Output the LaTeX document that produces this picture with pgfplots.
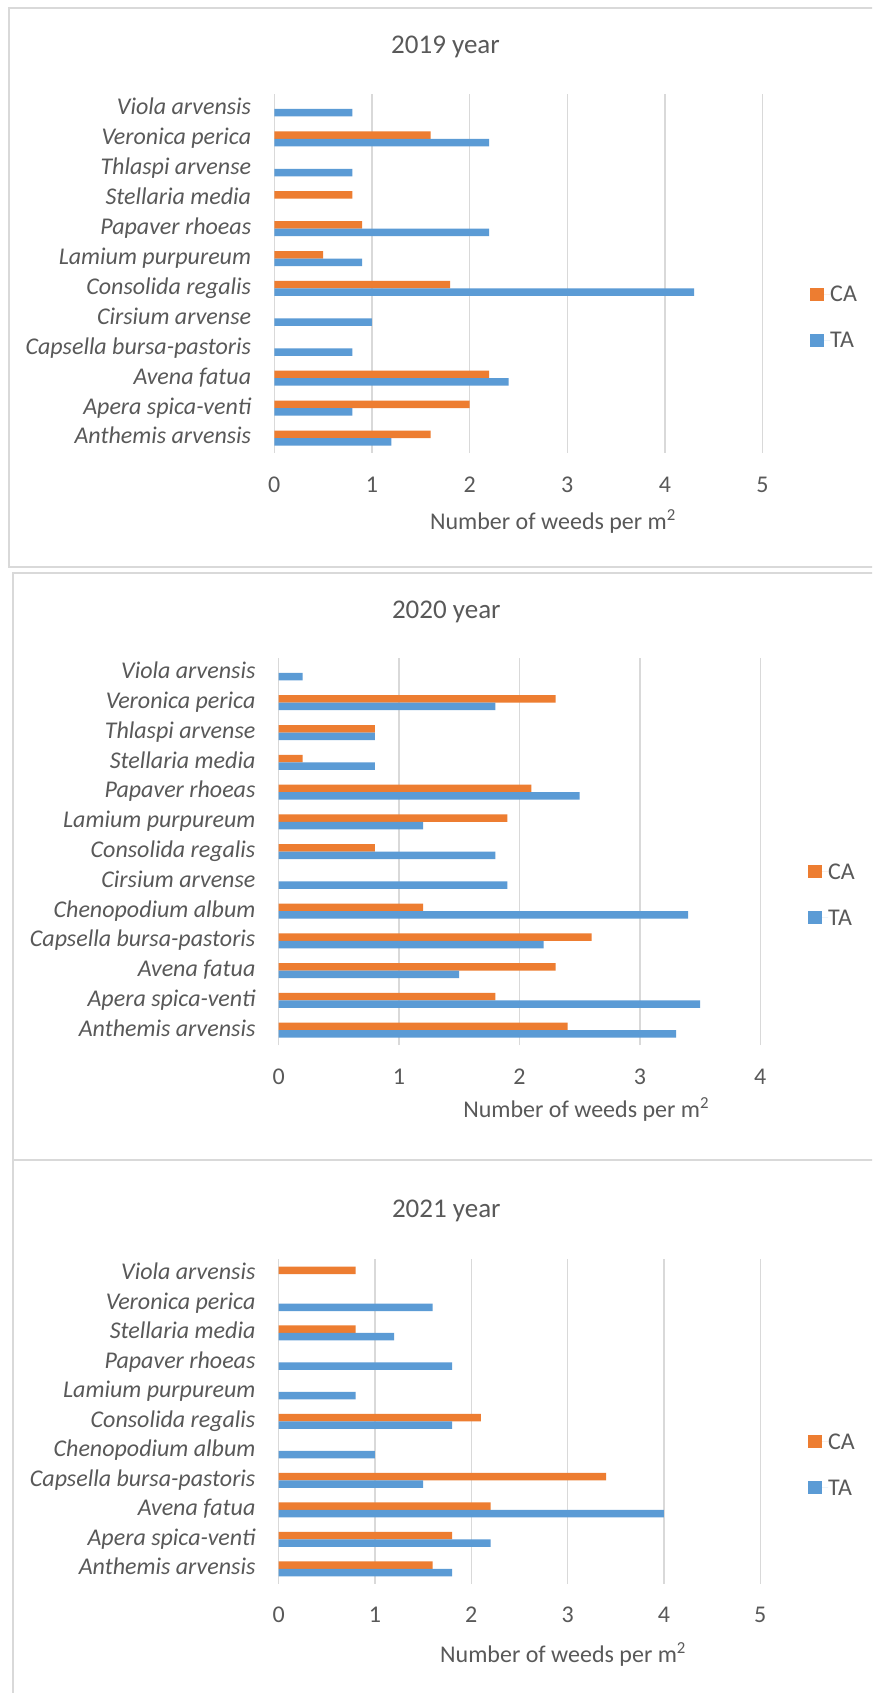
\documentclass[border=0pt]{standalone}
\usepackage{fontspec}
\setmainfont{Carlito}
\usepackage{pgfplots}
\pgfplotsset{compat=1.18}

\definecolor{caorange}{HTML}{ED7D31}
\definecolor{tablue}{HTML}{5B9BD5}
\definecolor{gridgray}{HTML}{D9D9D9}
\definecolor{framegray}{HTML}{D9D9D9}
\definecolor{txtgray}{HTML}{595959}

\newcommand{\lblfont}{\fontsize{24}{28}\selectfont}
\newcommand{\ttlfont}{\fontsize{27}{32}\selectfont}

\pgfplotsset{
  weedpanel/.style={
    scale only axis,
    xbar,
    bar width=7.5pt,
    xmin=0,
    enlargelimits=false,
    axis line style={draw=none},
    tick style={draw=none},
    major tick length=0pt,
    xmajorgrids,
    ymajorgrids=false,
    major grid style={draw=gridgray, line width=1.3pt},
    /pgf/number format/assume math mode=true,
    xticklabel style={font=\lblfont, text=txtgray, anchor=center,
      yshift=-31.5pt, inner sep=0pt},
    yticklabel style={font=\lblfont\itshape, text=txtgray, anchor=east,
      inner sep=0pt, xshift=-23pt, text height=17.8pt, text depth=5.9pt},
    legend style={draw=none, fill=none, inner sep=0pt, anchor=west,
      font=\lblfont, text=txtgray, row sep=31pt, column sep=0pt,
      nodes={inner sep=0pt, text height=15pt, text depth=0pt}},
    legend cell align=left,
    legend image code/.code={%
      \fill[##1] (0pt,-6.75pt) rectangle (13.5pt,6.75pt);
      \path (13.5pt,0pt) -- (20pt,0pt);},
  },
  caplot/.style={fill=caorange, draw=none, bar shift=3.75pt},
  taplot/.style={fill=tablue, draw=none, bar shift=-3.75pt},
}

\begin{document}
\begin{tikzpicture}[x=1pt,y=1pt]
\path[use as bounding box, fill=white] (0,0) rectangle (872,1693);

% chart frames
\begin{scope}
\clip (0,0) rectangle (872,1693);
\draw[framegray, line width=2pt] (880,1685) -- (8.5,1685) -- (8.5,1125.7) -- (880,1125.7);
\draw[framegray, line width=2pt] (880,1120.3) -- (12.7,1120.3) -- (12.7,-10);
\draw[framegray, line width=2pt] (12.7,533) -- (880,533);
\end{scope}

% ---------------- 2019 ----------------
\begin{axis}[weedpanel,
  at={(274.3pt,1240pt)}, anchor=south west,
  width=488.2pt, height=359pt,
  xmax=5, xtick={0,1,2,3,4,5},
  ymin=-0.5, ymax=11.5, ytick={0,...,11},
  yticklabels={Anthemis arvensis, Apera spica-venti, Avena fatua,
    Capsella bursa-pastoris, Cirsium arvense, Consolida regalis,
    Lamium purpureum, Papaver rhoeas, Stellaria media, Thlaspi arvense,
    Veronica perica, Viola arvensis},
  legend style={at={(1.0973,0.3774)}},
]
\addplot[caplot] coordinates {
  (1.6,0) (2.0,1) (2.2,2) (1.8,5) (0.5,6) (0.9,7) (0.8,8) (1.6,10)};
\addplot[taplot] coordinates {
  (1.2,0) (0.8,1) (2.4,2) (0.8,3) (1.0,4) (4.3,5) (0.9,6) (2.2,7)
  (0.8,9) (2.2,10) (0.8,11)};
\legend{CA, TA}
\end{axis}

% ---------------- 2020 ----------------
\begin{axis}[weedpanel,
  at={(278.6pt,647.9pt)}, anchor=south west,
  width=481.7pt, height=387pt,
  xmax=4, xtick={0,1,2,3,4},
  ymin=-0.5, ymax=12.5, ytick={0,...,12},
  yticklabels={Anthemis arvensis, Apera spica-venti, Avena fatua,
    Capsella bursa-pastoris, Chenopodium album, Cirsium arvense,
    Consolida regalis, Lamium purpureum, Papaver rhoeas, Stellaria media,
    Thlaspi arvense, Veronica perica, Viola arvensis},
  legend style={at={(1.099,0.389)}},
]
\addplot[caplot] coordinates {
  (2.4,0) (1.8,1) (2.3,2) (2.6,3) (1.2,4) (0.8,6) (1.9,7) (2.1,8)
  (0.2,9) (0.8,10) (2.3,11)};
\addplot[taplot] coordinates {
  (3.3,0) (3.5,1) (1.5,2) (2.2,3) (3.4,4) (1.9,5) (1.8,6) (1.2,7)
  (2.5,8) (0.8,9) (0.8,10) (1.8,11) (0.2,12)};
\legend{CA, TA}
\end{axis}

% ---------------- 2021 ----------------
\begin{axis}[weedpanel,
  at={(278.6pt,109.4pt)}, anchor=south west,
  width=481.7pt, height=324.3pt,
  xmax=5, xtick={0,1,2,3,4,5},
  ymin=-0.5, ymax=10.5, ytick={0,...,10},
  yticklabels={Anthemis arvensis, Apera spica-venti, Avena fatua,
    Capsella bursa-pastoris, Chenopodium album, Consolida regalis,
    Lamium purpureum, Papaver rhoeas, Stellaria media, Veronica perica,
    Viola arvensis},
  legend style={at={(1.099,0.367)}},
]
\addplot[caplot] coordinates {
  (1.6,0) (1.8,1) (2.2,2) (3.4,3) (2.1,5) (0.8,8) (0.8,10)};
\addplot[taplot] coordinates {
  (1.8,0) (2.2,1) (4.0,2) (1.5,3) (1.0,4) (1.8,5) (0.8,6) (1.8,7)
  (1.2,8) (1.6,9)};
\legend{CA, TA}
\end{axis}

% titles and axis titles
\tikzset{ttl/.style={font=\ttlfont, text=txtgray, inner sep=0pt,
  text height=17.2pt, text depth=0pt, anchor=center}}
\tikzset{xlbl/.style={font=\lblfont, text=txtgray, inner sep=0pt,
  text height=15.4pt, text depth=0pt, anchor=center}}
\node[ttl] at (445.5,1647.6) {2019 year};
\node[ttl] at (446.3,1083) {2020 year};
\node[ttl] at (446.3,484) {2021 year};
\node[xlbl] at (553,1171.3) {Number of weeds per m\textsuperscript{2}};
\node[xlbl] at (586.2,583.2) {Number of weeds per m\textsuperscript{2}};
\node[xlbl] at (563.1,37.7) {Number of weeds per m\textsuperscript{2}};
\end{tikzpicture}
\end{document}
